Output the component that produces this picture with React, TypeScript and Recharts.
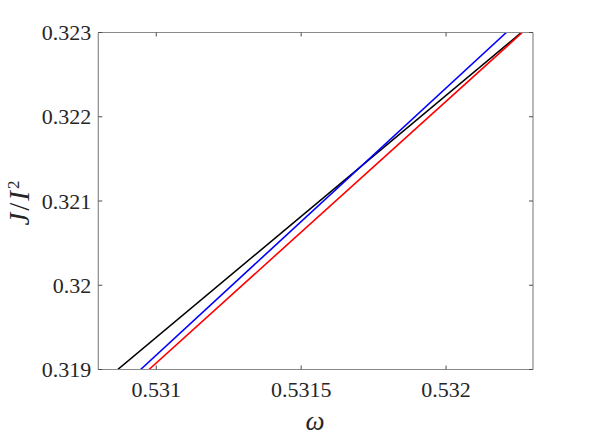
import { LineChart, Line, XAxis, YAxis } from "recharts";

// omega (x) and J/I^2 (y) where each curve enters and leaves the window
const omegaBlack = [0.530867, 0.53226];
const jBlack = [0.319, 0.323];
const omegaBlue = [0.530946, 0.532208];
const jBlue = [0.319, 0.323];
const omegaRed = [0.530975, 0.532263];
const jRed = [0.319, 0.323];

const xTicks = [0.531, 0.5315, 0.532];
const yTicks = [0.319, 0.32, 0.321, 0.322, 0.323];

const FONT = '"Liberation Serif", "DejaVu Serif", serif';
const AXIS = "#8a8a8a";
const TICK = "#4d4d4d";
const TEXT = "#262626";

const toRows = (w: number[], j: number[]) => w.map((v, i) => ({ w: v, j: j[i] }));

const BottomTick = ({ x, y, payload }: any) => (
  <g>
    <line x1={x} x2={x} y1={y} y2={y - 4} stroke={TICK} strokeWidth={1} />
    <text x={x} y={y + 27} textAnchor="middle" style={{ fontFamily: FONT, fontSize: 22 }} fill={TEXT}>
      {String(payload.value)}
    </text>
  </g>
);

const TopTick = ({ x, y }: any) => (
  <line x1={x} x2={x} y1={y} y2={y + 4} stroke={TICK} strokeWidth={1} />
);

const LeftTick = ({ x, y, payload }: any) => (
  <g>
    <line x1={x} x2={x + 4} y1={y} y2={y} stroke={TICK} strokeWidth={1} />
    <text x={x - 7} y={y} dy="0.35em" textAnchor="end" style={{ fontFamily: FONT, fontSize: 22 }} fill={TEXT}>
      {String(payload.value)}
    </text>
  </g>
);

const RightTick = ({ x, y }: any) => (
  <line x1={x} x2={x - 4} y1={y} y2={y} stroke={TICK} strokeWidth={1} />
);

const XTitle = () => (
  <text x={315} y={430} textAnchor="middle" style={{ fontFamily: FONT, fontSize: 27, fontStyle: "italic" }} fill={TEXT}>
    ω
  </text>
);

const YTitle = () => (
  <text
    x={29}
    y={202}
    transform="rotate(-90 29 202)"
    textAnchor="middle"
    style={{ fontFamily: FONT, fontSize: 29, letterSpacing: 2 }}
    fill={TEXT}
  >
    <tspan fontStyle="italic">J</tspan>
    <tspan>/</tspan>
    <tspan fontStyle="italic">I</tspan>
    <tspan dy={-10} fontSize={17}>2</tspan>
  </text>
);

export default function App() {
  return (
    <div style={{ position: "absolute", left: 0, top: 0, background: "#fff" }}>
      <LineChart width={589} height={442} margin={{ top: 22.5, right: 46, bottom: 42.5, left: 48.3 }}>
        <XAxis
          dataKey="w"
          type="number"
          domain={[0.5308, 0.5323]}
          allowDataOverflow
          ticks={xTicks}
          height={30}
          tickSize={0}
          tickMargin={0}
          tick={<BottomTick />}
          tickLine={false}
          axisLine={{ stroke: AXIS, strokeWidth: 1.2 }}
          label={<XTitle />}
        />
        <XAxis
          xAxisId="top"
          orientation="top"
          dataKey="w"
          type="number"
          domain={[0.5308, 0.5323]}
          allowDataOverflow
          ticks={xTicks}
          height={10}
          tickSize={0}
          tickMargin={0}
          tick={<TopTick />}
          tickLine={false}
          axisLine={{ stroke: AXIS, strokeWidth: 1.2 }}
        />
        <YAxis
          dataKey="j"
          type="number"
          domain={[0.319, 0.323]}
          allowDataOverflow
          ticks={yTicks}
          width={50}
          tickSize={0}
          tickMargin={0}
          tick={<LeftTick />}
          tickLine={false}
          axisLine={{ stroke: AXIS, strokeWidth: 1.2 }}
          label={<YTitle />}
        />
        <YAxis
          yAxisId="right"
          orientation="right"
          dataKey="j"
          type="number"
          domain={[0.319, 0.323]}
          allowDataOverflow
          ticks={yTicks}
          width={10}
          tickSize={0}
          tickMargin={0}
          tick={<RightTick />}
          tickLine={false}
          axisLine={{ stroke: AXIS, strokeWidth: 1.2 }}
        />
        <Line data={toRows(omegaBlack, jBlack)} dataKey="j" stroke="#000000" strokeWidth={1.6} dot={false} isAnimationActive={false} />
        <Line data={toRows(omegaBlue, jBlue)} dataKey="j" stroke="#0000ff" strokeWidth={1.6} dot={false} isAnimationActive={false} />
        <Line data={toRows(omegaRed, jRed)} dataKey="j" stroke="#ff0000" strokeWidth={1.6} dot={false} isAnimationActive={false} />
      </LineChart>
    </div>
  );
}
